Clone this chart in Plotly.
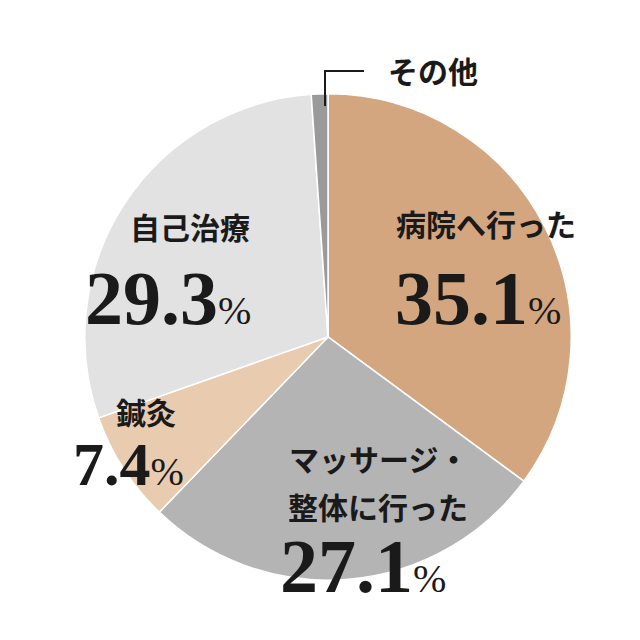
import plotly.graph_objects as go

labels = ["病院へ行った", "マッサージ・整体に行った", "鍼灸", "自己治療", "その他"]
values = [35.1, 27.1, 7.4, 29.3, 1.1]
colors = ["#d4a680", "#b4b4b4", "#e9cbb0", "#e2e2e2", "#9a9a9a"]

fig = go.Figure(go.Pie(
    labels=labels, values=values, sort=False, direction="clockwise", rotation=0,
    marker=dict(colors=colors, line=dict(color="white", width=1.5)),
    textinfo="none", hoverinfo="label+percent",
    domain=dict(x=[0.12, 0.88], y=[0.106, 0.866]),
))

def px(x, y):
    return x / 640, 1 - y / 640

J = "Noto Sans CJK JP"
S = "Liberation Serif"
ann = []
def txt(x, y, t, size, font=J):
    ax, ay = px(x, y)
    ann.append(dict(x=ax, y=ay, xref="paper", yref="paper", text=t, showarrow=False,
                    font=dict(family=font, size=size, color="#1a1a1a"), xanchor="center", yanchor="middle"))

def pct(v):
    return f"<b>{v}</b><span style='font-size:40px'>%</span>"

txt(478, 215, "<b>病院へ行った</b>", 30)
txt(470, 290, pct(values[0]), 76, S)
txt(370, 450, "<b>マッサージ・</b>", 30)
txt(370, 498, "<b>整体に行った</b>", 30)
txt(355, 558, pct(values[1]), 76, S)
txt(138, 403, "<b>鍼灸</b>", 30)
txt(120, 456, pct(values[2]), 62, S)
txt(182, 218, "<b>自己治療</b>", 30)
txt(160, 290, pct(values[3]), 76, S)
txt(425, 62, "<b>その他</b>", 30)

fig.update_layout(
    width=640, height=640, margin=dict(l=0, r=0, t=0, b=0),
    paper_bgcolor="white", showlegend=False, annotations=ann,
    shapes=[dict(type="path", xref="paper", yref="paper",
                 path=f"M {317/640} {1-98/640} L {317/640} {1-63/640} L {356/640} {1-63/640}",
                 line=dict(color="#1a1a1a", width=2))],
)
fig.write_html("out.html")
